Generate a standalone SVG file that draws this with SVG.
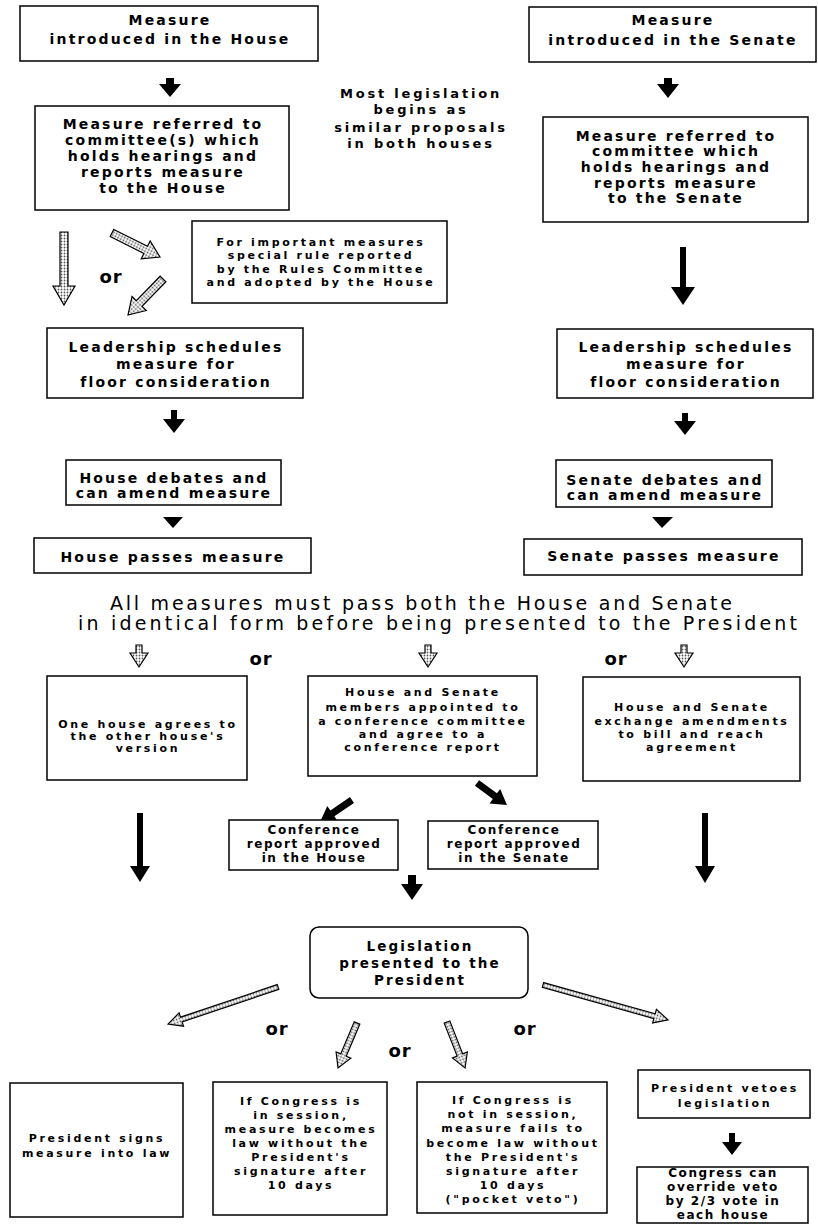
<svg xmlns="http://www.w3.org/2000/svg" width="818" height="1224" viewBox="0 0 818 1224">
<defs>
<pattern id="dots" width="3" height="3" patternUnits="userSpaceOnUse"><rect width="3" height="3" fill="#fff"/><circle cx="1.5" cy="1.5" r="0.9" fill="#555"/></pattern>
<style>
.box{fill:#fff;stroke:#000;stroke-width:1.5}
.t14{font-family:"DejaVu Sans",sans-serif;font-weight:bold;font-size:14px;letter-spacing:2.2px;text-anchor:middle;fill:#000}
.t13{font-family:"DejaVu Sans",sans-serif;font-weight:bold;font-size:13.5px;letter-spacing:2.1px;text-anchor:middle;fill:#000}
.t12{font-family:"DejaVu Sans",sans-serif;font-weight:bold;font-size:12px;letter-spacing:1.6px;text-anchor:middle;fill:#000}
.t11{font-family:"DejaVu Sans",sans-serif;font-weight:bold;font-size:11px;letter-spacing:2.7px;text-anchor:middle;fill:#000}
.mid{font-family:"DejaVu Sans",sans-serif;font-weight:bold;font-size:13px;letter-spacing:2.8px;text-anchor:middle;fill:#000}
.hd{font-family:"DejaVu Sans",sans-serif;font-size:19px;fill:#000}
.or{font-family:"DejaVu Sans",sans-serif;font-weight:bold;font-size:18px;letter-spacing:1px;text-anchor:middle;fill:#000}
.solid{fill:#000}
.hatch{fill:url(#dots);stroke:#000;stroke-width:1.2;stroke-linejoin:miter}
</style>
</defs>
<rect width="818" height="1224" fill="#fff"/>

<g id="connectors">
<polygon class="solid" points="166,78 174,78 174,84 181,84 170,97 159,84 166,84"/>
<polygon class="solid" points="664,78 672,78 672,84 679,84 668,98 657,84 664,84"/>
<polygon class="hatch" points="60,232 68,232 68,286 75,286 64,305 53,286 60,286"/>
<polygon class="hatch" transform="translate(112,233) rotate(26.6)" points="0,-4 37.7,-4 37.7,-10 53.7,0 37.7,10 37.7,4 0,4"/>
<polygon class="hatch" transform="translate(163,279) rotate(134.2)" points="0,-4 34.2,-4 34.2,-10 50.2,0 34.2,10 34.2,4 0,4"/>
<polygon class="solid" points="680,247 686,247 686,287 695,287 683,305 671,287 680,287"/>
<polygon class="solid" points="171,410 177,410 177,419 185,419 174,433 163,419 171,419"/>
<polygon class="solid" points="682,413 688,413 688,421 696,421 685,435 674,421 682,421"/>
<polygon class="solid" points="163,517 183,517 173,528"/>
<polygon class="solid" points="652,517 673,517 662,528"/>
<polygon class="hatch" points="136,645 142,645 142,653 148,653 139,667 130,653 136,653"/>
<polygon class="hatch" points="425,645 431,645 431,653 437,653 428,667 419,653 425,653"/>
<polygon class="hatch" points="681,645 687,645 687,653 693,653 684,667 675,653 681,653"/>
<polygon class="solid" points="137,813 143,813 143,866 150,866 140,882 130,866 137,866"/>
<polygon class="solid" points="702,813 708,813 708,866 715,866 705,883 695,866 702,866"/>
<polygon class="solid" transform="translate(352,800) rotate(145.5)" points="0,-3.5 23.8,-3.5 23.8,-9 38.8,0 23.8,9 23.8,3.5 0,3.5"/>
<polygon class="solid" transform="translate(477,783) rotate(36.3)" points="0,-3.5 22.2,-3.5 22.2,-9 37.2,0 22.2,9 22.2,3.5 0,3.5"/>
<polygon class="solid" points="408,875 416,875 416,884 423,884 412,900 401,884 408,884"/>
<polygon class="hatch" transform="translate(278,987) rotate(161.4)" points="0,-2.5 102,-2.5 102,-7 116,0 102,7 102,2.5 0,2.5"/>
<polygon class="hatch" transform="translate(543,985) rotate(15.6)" points="0,-2.5 115.8,-2.5 115.8,-7 129.8,0 115.8,7 115.8,2.5 0,2.5"/>
<polygon class="hatch" transform="translate(357,1023) rotate(112.9)" points="0,-3 34.8,-3 34.8,-8 48.8,0 34.8,8 34.8,3 0,3"/>
<polygon class="hatch" transform="translate(447,1022) rotate(68.6)" points="0,-3 35.4,-3 35.4,-8 49.4,0 35.4,8 35.4,3 0,3"/>
<polygon class="solid" points="729,1133 735,1133 735,1142 742,1142 732,1155 722,1142 729,1142"/>
</g>

<g id="house-intro"><rect class="box" x="20" y="6" width="298" height="55"/>
<text class="t14" x="170" y="25">Measure</text><text class="t14" x="170" y="44">introduced in the House</text></g>

<g id="senate-intro"><rect class="box" x="529" y="7" width="287" height="55"/>
<text class="t14" x="673" y="25">Measure</text><text class="t14" x="673" y="45">introduced in the Senate</text></g>

<g id="note-most"><text class="mid" x="421" y="98">Most legislation</text><text class="mid" x="421" y="114">begins as</text><text class="mid" x="421" y="132">similar proposals</text><text class="mid" x="421" y="148">in both houses</text></g>

<g id="house-committee"><rect class="box" x="35" y="106" width="254" height="104"/>
<text class="t14" x="163" y="129">Measure referred to</text><text class="t14" x="163" y="145">committee(s) which</text><text class="t14" x="163" y="161">holds hearings and</text><text class="t14" x="163" y="177">reports measure</text><text class="t14" x="163" y="193">to the House</text></g>

<g id="senate-committee"><rect class="box" x="543" y="117" width="265" height="105"/>
<text class="t14" x="676" y="141">Measure referred to</text><text class="t14" x="676" y="156">committee which</text><text class="t14" x="676" y="172">holds hearings and</text><text class="t14" x="676" y="188">reports measure</text><text class="t14" x="676" y="203">to the Senate</text></g>

<g id="or-house"><text class="or" x="111" y="283">or</text></g>

<g id="rules-committee"><rect class="box" x="192" y="221" width="255" height="82"/>
<text class="t11" x="321" y="246">For important measures</text><text class="t11" x="321" y="259">special rule reported</text><text class="t11" x="321" y="273">by the Rules Committee</text><text class="t11" x="321" y="286">and adopted by the House</text></g>

<g id="house-leadership"><rect class="box" x="47" y="328" width="256" height="70"/>
<text class="t14" x="176" y="352">Leadership schedules</text><text class="t14" x="176" y="369">measure for</text><text class="t14" x="176" y="387">floor consideration</text></g>

<g id="senate-leadership"><rect class="box" x="557" y="329" width="256" height="69"/>
<text class="t14" x="686" y="352">Leadership schedules</text><text class="t14" x="686" y="369">measure for</text><text class="t14" x="686" y="387">floor consideration</text></g>

<g id="house-debates"><rect class="box" x="66" y="460" width="215" height="45"/>
<text class="t14" x="174" y="483">House debates and</text><text class="t14" x="174" y="498">can amend measure</text></g>

<g id="senate-debates"><rect class="box" x="556" y="460" width="216" height="47"/>
<text class="t14" x="665" y="485">Senate debates and</text><text class="t14" x="665" y="500">can amend measure</text></g>

<g id="house-passes"><rect class="box" x="34" y="538" width="277" height="35"/>
<text class="t14" x="173" y="562">House passes measure</text></g>

<g id="senate-passes"><rect class="box" x="524" y="539" width="278" height="36"/>
<text class="t14" x="664" y="561">Senate passes measure</text></g>

<g id="headline"><text class="hd" x="110" y="610" textLength="622" lengthAdjust="spacing">All measures must pass both the House and Senate</text>
<text class="hd" x="78" y="630" textLength="719" lengthAdjust="spacing">in identical form before being presented to the President</text></g>

<g id="or-row"><text class="or" x="261" y="665">or</text><text class="or" x="616" y="665">or</text></g>

<g id="one-house"><rect class="box" x="47" y="676" width="200" height="104"/>
<text class="t11" x="148" y="728">One house agrees to</text><text class="t11" x="148" y="740">the other house's</text><text class="t11" x="148" y="752">version</text></g>

<g id="conference"><rect class="box" x="308" y="676" width="229" height="100"/>
<text class="t11" x="423" y="696">House and Senate</text><text class="t11" x="423" y="711">members appointed to</text><text class="t11" x="423" y="725">a conference committee</text><text class="t11" x="423" y="738">and agree to a</text><text class="t11" x="423" y="751">conference report</text></g>

<g id="exchange"><rect class="box" x="583" y="677" width="217" height="104"/>
<text class="t11" x="692" y="711">House and Senate</text><text class="t11" x="692" y="725">exchange amendments</text><text class="t11" x="692" y="738">to bill and reach</text><text class="t11" x="692" y="751">agreement</text></g>

<g id="conf-house"><rect class="box" x="229" y="820" width="169" height="50"/>
<text class="t12" x="314" y="834">Conference</text><text class="t12" x="314" y="848">report approved</text><text class="t12" x="314" y="862">in the House</text></g>

<g id="conf-senate"><rect class="box" x="428" y="821" width="170" height="48"/>
<text class="t12" x="514" y="834">Conference</text><text class="t12" x="514" y="848">report approved</text><text class="t12" x="514" y="862">in the Senate</text></g>

<g id="president"><rect class="box" x="310" y="927" width="218" height="71" rx="9"/>
<text class="t13" x="420" y="951">Legislation</text><text class="t13" x="420" y="968">presented to the</text><text class="t13" x="420" y="985">President</text></g>

<g id="or-president"><text class="or" x="277" y="1035">or</text><text class="or" x="400" y="1057">or</text><text class="or" x="525" y="1035">or</text></g>

<g id="signs"><rect class="box" x="10" y="1083" width="173" height="134"/>
<text class="t11" x="97" y="1142">President signs</text><text class="t11" x="97" y="1157">measure into law</text></g>

<g id="in-session"><rect class="box" x="213" y="1082" width="174" height="133"/>
<text class="t11" x="301" y="1105">If Congress is</text><text class="t11" x="301" y="1119">in session,</text><text class="t11" x="301" y="1133">measure becomes</text><text class="t11" x="301" y="1147">law without the</text><text class="t11" x="301" y="1161">President's</text><text class="t11" x="301" y="1175">signature after</text><text class="t11" x="301" y="1189">10 days</text></g>

<g id="pocket-veto"><rect class="box" x="417" y="1082" width="190" height="131"/>
<text class="t11" x="513" y="1104">If Congress is</text><text class="t11" x="513" y="1118">not in session,</text><text class="t11" x="513" y="1132">measure fails to</text><text class="t11" x="513" y="1147">become law without</text><text class="t11" x="513" y="1161">the President's</text><text class="t11" x="513" y="1175">signature after</text><text class="t11" x="513" y="1189">10 days</text><text class="t11" x="513" y="1203">("pocket veto")</text></g>

<g id="veto"><rect class="box" x="638" y="1070" width="172" height="48"/>
<text class="t11" x="725" y="1092">President vetoes</text><text class="t11" x="725" y="1107">legislation</text></g>

<g id="override"><rect class="box" x="637" y="1167" width="171" height="56"/>
<text class="t12" x="723" y="1177">Congress can</text><text class="t12" x="723" y="1191">override veto</text><text class="t12" x="723" y="1205">by 2/3 vote in</text><text class="t12" x="723" y="1219">each house</text></g>
</svg>
